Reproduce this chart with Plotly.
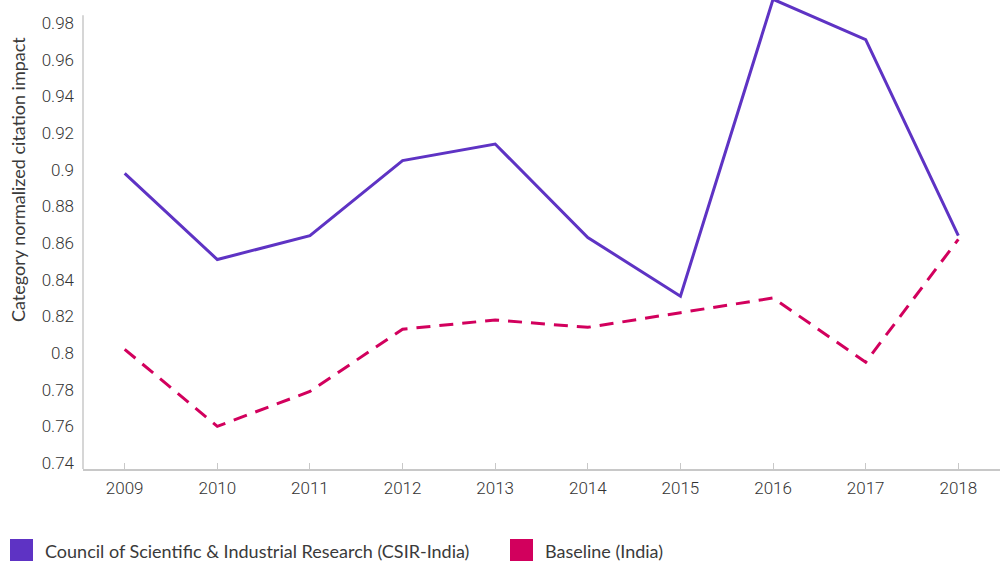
import plotly.graph_objects as go

years = ["2009", "2010", "2011", "2012", "2013", "2014", "2015", "2016", "2017", "2018"]
csir = [0.898, 0.851, 0.864, 0.905, 0.914, 0.863, 0.831, 0.993, 0.971, 0.864]
baseline = [0.802, 0.760, 0.779, 0.813, 0.818, 0.814, 0.822, 0.830, 0.795, 0.862]
series_names = ["Council of Scientific & Industrial Research (CSIR-India)", "Baseline (India)"]
colors = ["#5E33C4", "#D2005D"]
y_ticks = [0.74, 0.76, 0.78, 0.80, 0.82, 0.84, 0.86, 0.88, 0.90, 0.92, 0.94, 0.96, 0.98]
y_tick_text = ["0.74", "0.76", "0.78", "0.8", "0.82", "0.84", "0.86", "0.88", "0.9", "0.92", "0.94", "0.96", "0.98"]

W, H = 1002, 561
ML, MR, MT, MB = 83, 2, 0, 92
PW, PH = W - ML - MR, H - MT - MB

def px_x(x):
    return (x - ML) / PW

def px_y(y):
    return (H - MB - y) / PH

text_color = "#333333"
axis_color = "#c8c8c8"

fig = go.Figure()
fig.add_trace(go.Scatter(x=years, y=csir, mode="lines", name=series_names[0],
                         line=dict(color=colors[0], width=3), showlegend=False))
fig.add_trace(go.Scatter(x=years, y=baseline, mode="lines", name=series_names[1],
                         line=dict(color=colors[1], width=3, dash="14px,9px"), showlegend=False))

y_lo, y_hi = 0.7367, 0.9926
tick_font = dict(family="Roboto", size=17, color=text_color, weight=300)
fig.update_layout(
    width=W, height=H,
    margin=dict(l=ML, r=MR, t=MT, b=MB, autoexpand=False),
    paper_bgcolor="white", plot_bgcolor="white",
    font=dict(family="Lato", color=text_color),
    xaxis=dict(type="category", range=[-0.45, 9.45], showgrid=False, zeroline=False,
               showline=True, linecolor=axis_color, linewidth=1.5, automargin=False,
               ticks="inside", ticklen=6, tickcolor=axis_color, tickwidth=1,
               ticklabelstandoff=3, tickfont=tick_font),
    yaxis=dict(range=[y_lo, y_hi], showgrid=False, zeroline=False, showline=False,
               automargin=False,
               tickvals=y_ticks, ticktext=y_tick_text, ticks="", ticklabelstandoff=8,
               tickfont=tick_font),
)

shapes = [
    dict(type="line", xref="paper", yref="y", x0=0, x1=0, y0=y_lo, y1=0.9843,
         line=dict(color=axis_color, width=1.5)),
]
for cat in ["2016", "2017", "2018"]:
    shapes.append(dict(type="line", xref="x", yref="paper", x0=cat, x1=cat,
                       y0=px_y(523), y1=px_y(530), line=dict(color=axis_color, width=1)))

label_font = dict(family="Lato", size=18, color="#3a3a3a")
annotations = [
    dict(text="Category normalized citation impact", xref="paper", yref="paper",
         x=px_x(18), y=px_y(180), xanchor="center", yanchor="middle", textangle=-90,
         showarrow=False, font=label_font),
]
legend_x = [10, 510]
for i, (name, col) in enumerate(zip(series_names, colors)):
    x0 = legend_x[i]
    shapes.append(dict(type="rect", xref="paper", yref="paper",
                       x0=px_x(x0), x1=px_x(x0 + 23), y0=px_y(539), y1=px_y(561),
                       fillcolor=col, line=dict(width=0)))
    annotations.append(dict(text=name, xref="paper", yref="paper",
                            x=px_x(x0 + 33), y=px_y(551), xanchor="left", yanchor="middle",
                            showarrow=False, font=label_font))

fig.update_layout(shapes=shapes, annotations=annotations)
fig.write_html("out.html", config={"displayModeBar": False},
               post_script="document.body.style.margin='0';document.body.style.overflow='hidden';")
